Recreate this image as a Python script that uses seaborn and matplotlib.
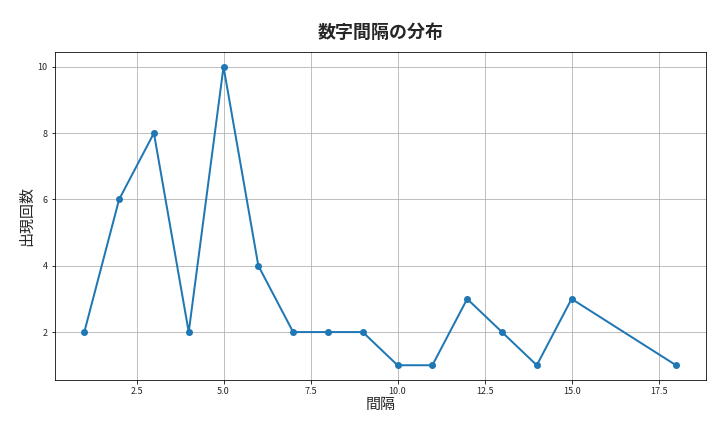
import matplotlib
matplotlib.use("Agg")
import matplotlib.pyplot as plt
import seaborn as sns
import pandas as pd

intervals = [1, 2, 3, 4, 5, 6, 7, 8, 9, 10, 11, 12, 13, 14, 15, 18]
counts = [2, 6, 8, 2, 10, 4, 2, 2, 2, 1, 1, 3, 2, 1, 3, 1]

sns.set_style("white")
plt.rcParams['font.family'] = ['Noto Sans CJK JP', 'DejaVu Sans']

df = pd.DataFrame({"間隔": intervals, "出現回数": counts})
fig, ax = plt.subplots(figsize=(10, 6), dpi=72)
sns.lineplot(data=df, x="間隔", y="出現回数", marker="o", markersize=7,
             markeredgewidth=0, linewidth=2, color="#1f77b4", ax=ax)
ax.grid(True, color="#b0b0b0", linewidth=0.8)
for s in ax.spines.values():
    s.set_color("black"); s.set_linewidth(0.8)
ax.tick_params(labelsize=9, length=3.5, color="black", left=True, bottom=True)
ax.set_title("数字間隔の分布", fontsize=18, fontweight="bold", pad=14)
ax.set_xlabel("間隔", fontsize=15, labelpad=2)
ax.set_ylabel("出現回数", fontsize=15)
fig.subplots_adjust(left=0.076, right=0.98, top=0.88, bottom=0.12)
fig.savefig("out.png")
